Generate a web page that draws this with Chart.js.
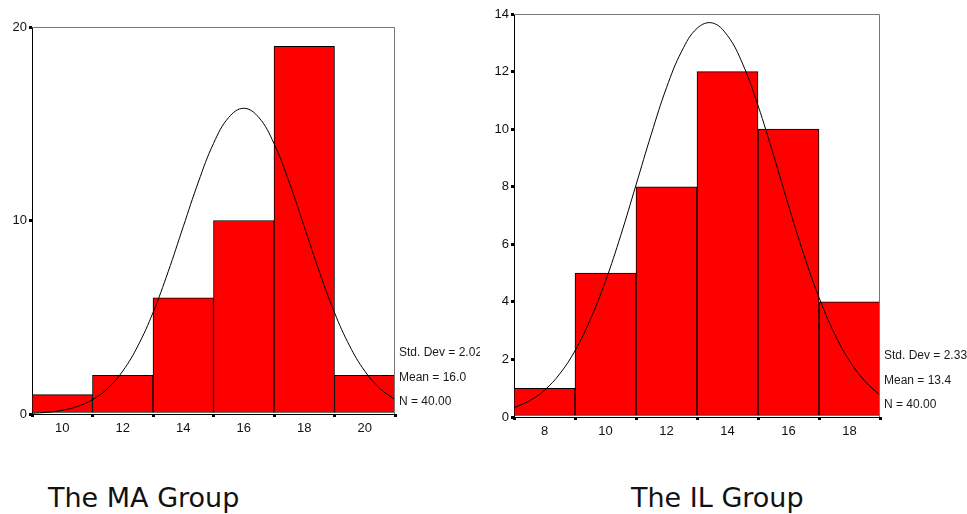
<!DOCTYPE html>
<html>
<head>
<meta charset="utf-8">
<script src="https://cdn.jsdelivr.net/npm/chart.js@4.4.1/dist/chart.umd.min.js"></script>
<style>
  body { margin: 0; background: #fff; width: 967px; height: 514px; overflow: hidden; position: relative; }
  .box { position: absolute; top: 0; }
  .cap { position: absolute; top: 484px; font-family: "DejaVu Sans", Verdana, sans-serif; font-size: 27px; line-height: 27px; color: #111; white-space: nowrap; }
</style>
</head>
<body>
<div class="box" style="left:0"><canvas id="ma" width="480" height="460"></canvas></div>
<div class="box" style="left:480px"><canvas id="il" width="487" height="460"></canvas></div>
<div class="cap" style="left:48px">The MA Group</div>
<div class="cap" style="left:631px">The IL Group</div>
<script>
// MA group histogram
const maBins = [10, 12, 14, 16, 18, 20];
const maCounts = [1, 2, 6, 10, 19, 2];
const maCurveX = [9, 9.5, 10, 10.5, 11, 11.5, 12, 12.5, 13, 13.5, 14, 14.5, 15, 15.5, 16,
                  16.5, 17, 17.5, 18, 18.5, 19, 19.5, 20, 20.5, 21];
const maCurveY = [0.04, 0.09, 0.19, 0.39, 0.74, 1.32, 2.22, 3.52, 5.24, 7.35, 9.68, 11.99, 13.98, 15.32, 15.8,
                  15.32, 13.98, 11.99, 9.68, 7.35, 5.24, 3.52, 2.22, 1.32, 0.74];
const maXTicks = [10, 12, 14, 16, 18, 20];
const maYTicks = [0, 10, 20];
const maStats = ["Std. Dev = 2.02", "Mean = 16.0", "N = 40.00"];

// IL group histogram
const ilBins = [8, 10, 12, 14, 16, 18];
const ilCounts = [1, 5, 8, 12, 10, 4];
const ilCurveX = [7, 7.5, 8, 8.5, 9, 9.5, 10, 10.5, 11, 11.5, 12, 12.5, 13, 13.5, 14,
                  14.5, 15, 15.5, 16, 16.5, 17, 17.5, 18, 18.5, 19];
const ilCurveY = [0.32, 0.56, 0.93, 1.5, 2.3, 3.38, 4.72, 6.31, 8.06, 9.82, 11.44, 12.71, 13.5, 13.69, 13.25,
                  12.26, 10.82, 9.13, 7.35, 5.65, 4.15, 2.91, 1.95, 1.25, 0.76];
const ilXTicks = [8, 10, 12, 14, 16, 18];
const ilYTicks = [0, 2, 4, 6, 8, 10, 12, 14];
const ilStats = ["Std. Dev = 2.33", "Mean = 13.4", "N = 40.00"];

const tickFont = { family: "'Liberation Sans', Arial, sans-serif", size: 13 };

// grey frame on top/right + the stats text next to the plot
const framePlugin = {
  id: "frame",
  afterDraw(chart, args, opts) {
    const { ctx, chartArea: a } = chart;
    ctx.save();
    ctx.strokeStyle = "#777";
    ctx.lineWidth = 1;
    ctx.beginPath();
    ctx.moveTo(a.left, a.top + 0.5);
    ctx.lineTo(a.right - 0.5, a.top + 0.5);
    ctx.lineTo(a.right - 0.5, a.bottom);
    ctx.stroke();
    ctx.fillStyle = "#1a1a1a";
    ctx.font = "12px 'Liberation Sans', Arial, sans-serif";
    ctx.textBaseline = "middle";
    opts.lines.forEach((t, i) => {
      ctx.fillText(t, a.right + 4, a.bottom - 61 + i * 24.5);
    });
    ctx.restore();
  },
};

function histogram(id, bins, counts, cx, cy, xTicks, yTicks, stats, xr, yMax, pad, yW, xH) {
  const ctx = document.getElementById(id).getContext("2d");
  return new Chart(ctx, {
    type: "bar",
    data: {
      datasets: [
        {
          type: "line",
          data: cx.map((x, i) => ({ x, y: cy[i] })),
          borderColor: "#000",
          borderWidth: 1,
          pointRadius: 0,
          tension: 0.4,
          fill: false,
          order: 0,
        },
        {
          data: bins.map((x, i) => ({ x, y: counts[i] })),
          backgroundColor: "#ff0000",
          borderColor: "#000",
          borderWidth: 1,
          borderSkipped: false,
          barPercentage: 1,
          categoryPercentage: 1,
          order: 1,
        },
      ],
    },
    options: {
      responsive: false,
      animation: false,
      layout: { padding: pad },
      plugins: { legend: { display: false }, tooltip: { enabled: false }, frame: { lines: stats } },
      scales: {
        x: {
          type: "linear",
          min: xr[0],
          max: xr[1],
          offset: false,
          afterBuildTicks: (s) => { s.ticks = xTicks.map((v) => ({ value: v })); },
          afterFit: (s) => { s.height = xH; },
          grid: { drawOnChartArea: false, tickLength: 3, tickColor: "#000", lineWidth: 3 },
          border: { color: "#000", width: 1 },
          ticks: { font: tickFont, color: "#111", padding: 4 },
        },
        y: {
          min: 0,
          max: yMax,
          afterBuildTicks: (s) => { s.ticks = yTicks.map((v) => ({ value: v })); },
          afterFit: (s) => { s.width = yW; },
          grid: { drawOnChartArea: false, tickLength: 3, tickColor: "#000", lineWidth: 3 },
          border: { color: "#000", width: 1 },
          ticks: { font: tickFont, color: "#111", padding: 2 },
        },
      },
    },
    plugins: [framePlugin],
  });
}

histogram("ma", maBins, maCounts, maCurveX, maCurveY, maXTicks, maYTicks, maStats,
  [9, 21], 20, { top: 27, right: 85, left: 0, bottom: 0 }, 32, 46);
histogram("il", ilBins, ilCounts, ilCurveX, ilCurveY, ilXTicks, ilYTicks, ilStats,
  [7, 19], 14, { top: 14, right: 87, left: 0, bottom: 0 }, 34, 43);
</script>
</body>
</html>
